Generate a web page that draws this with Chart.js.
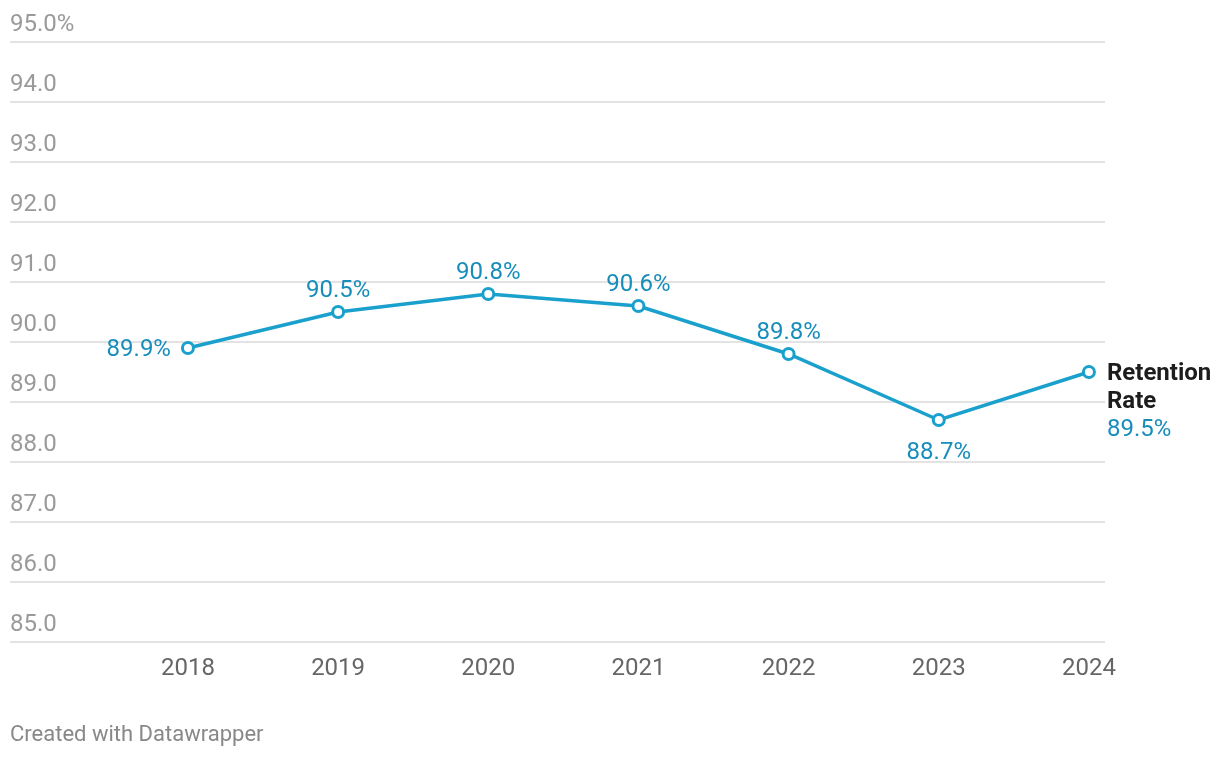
<!DOCTYPE html>
<html>
<head>
<meta charset="utf-8">
<script src="https://cdn.jsdelivr.net/npm/chart.js@4/dist/chart.umd.min.js"></script>
<style>
html,body{margin:0;padding:0;background:#fff;}
#wrap{position:relative;width:1220px;height:758px;}
#c{position:absolute;left:0;top:0;}
#foot{position:absolute;left:10px;top:721px;font:22px Roboto,sans-serif;line-height:26px;color:#888;}
</style>
</head>
<body>
<div id="wrap">
<canvas id="c" width="1220" height="758"></canvas>
<div id="foot">Created with Datawrapper</div>
</div>
<script>
const years = [2018, 2019, 2020, 2021, 2022, 2023, 2024];
const retention = [89.9, 90.5, 90.8, 90.6, 89.8, 88.7, 89.5];
const yTicks = [85, 86, 87, 88, 89, 90, 91, 92, 93, 94, 95];
const seriesName = ['Retention', 'Rate'];

const LINE = '#1aa0cd';
const LABEL = '#168dba';
const FONT = 'Roboto, sans-serif';

const labelPlugin = {
  id: 'pointLabels',
  afterDatasetsDraw(chart) {
    const ctx = chart.ctx;
    const meta = chart.getDatasetMeta(0);
    const data = chart.data.datasets[0].data;
    const n = data.length;
    ctx.save();
    ctx.font = '24px ' + FONT;
    ctx.fillStyle = LABEL;
    meta.data.forEach((pt, i) => {
      const v = data[i].y;
      const txt = v.toFixed(1) + '%';
      const x = pt.x, y = pt.y;
      if (i === 0) {
        ctx.textAlign = 'right'; ctx.textBaseline = 'alphabetic';
        ctx.fillText(txt, x - 17, y + 8);
      } else if (i === n - 1) {
        ctx.textAlign = 'left'; ctx.textBaseline = 'alphabetic';
        ctx.font = 'bold 24px ' + FONT;
        ctx.fillStyle = '#1d1d1d';
        ctx.fillText(seriesName[0], x + 18, y + 8);
        ctx.fillText(seriesName[1], x + 18, y + 36);
        ctx.font = '24px ' + FONT;
        ctx.fillStyle = LABEL;
        ctx.fillText(txt, x + 18, y + 64);
      } else {
        const prev = data[i - 1].y, next = data[i + 1].y;
        ctx.textAlign = 'center'; ctx.textBaseline = 'alphabetic';
        if (v < prev && v < next) {
          ctx.fillText(txt, x, y + 39);
        } else {
          ctx.fillText(txt, x, y - 15);
        }
      }
    });
    ctx.restore();
  }
};

new Chart(document.getElementById('c'), {
  type: 'line',
  data: {
    datasets: [{
      data: years.map((yr, i) => ({ x: yr, y: retention[i] })),
      borderColor: LINE,
      borderWidth: 3.5,
      pointRadius: 5.5,
      pointHoverRadius: 5.5,
      pointBorderWidth: 3,
      pointBackgroundColor: '#fff',
      pointBorderColor: LINE,
      tension: 0,
      clip: false
    }]
  },
  options: {
    responsive: false,
    animation: false,
    events: [],
    layout: { padding: { left: 10, right: 115, top: 42, bottom: 0 } },
    plugins: { legend: { display: false }, tooltip: { enabled: false } },
    scales: {
      x: {
        type: 'linear',
        min: 2016.815,
        max: 2024.107,
        afterBuildTicks: s => { s.ticks = years.map(v => ({ value: v })); },
        afterFit: s => { s.height = 116; },
        grid: { display: false },
        border: { display: false },
        ticks: {
          autoSkip: false,
          maxRotation: 0,
          padding: 5,
          color: '#666',
          font: { family: FONT, size: 24 },
          callback: v => String(v)
        }
      },
      y: {
        min: 85,
        max: 95,
        afterBuildTicks: s => { s.ticks = yTicks.map(v => ({ value: v })); },
        afterFit: s => { s.width = 0; },
        grid: { color: '#e3e3e3', lineWidth: 2, drawTicks: false },
        border: { display: false },
        ticks: {
          mirror: true,
          padding: 0,
          labelOffset: -17,
          color: '#9a9a9a',
          font: { family: FONT, size: 24 },
          callback: v => v === 95 ? v.toFixed(1) + '%' : v.toFixed(1)
        }
      }
    }
  },
  plugins: [labelPlugin]
});
</script>
</body>
</html>
